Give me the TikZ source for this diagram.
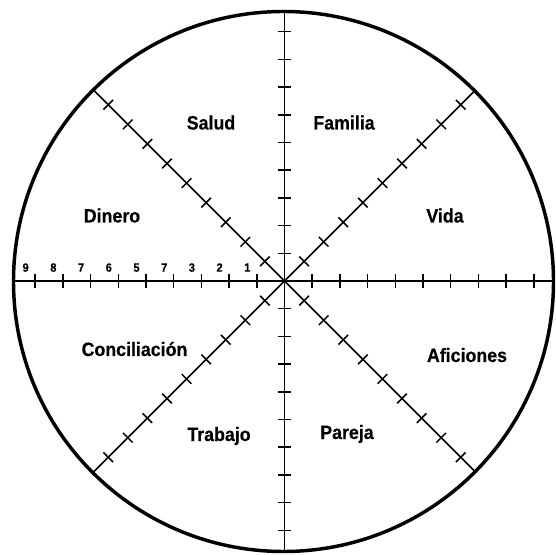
\documentclass[tikz,border=0pt]{standalone}
\usepackage{fontspec}
\setmainfont{Liberation Sans}[FakeStretch=0.92, BoldFeatures={FakeBold=0.4}]
\usepackage{tikz}

\begin{document}
\begin{tikzpicture}[x=0.75pt,y=-0.75pt,
	area/.style={anchor=base, font=\fontsize{14.5}{16}\selectfont\bfseries},
	num/.style={anchor=base, font=\fontsize{9}{10}\selectfont\bfseries}]
	\useasboundingbox (0,0) rectangle (556,555);
	\coordinate (c) at (284.5,281);
	% eight rays with nine marks each
	\foreach \a in {0,45,...,315} {
		\begin{scope}[shift={(c)}, rotate=\a]
			\draw[line width=1.25pt] (0,0) -- (270,0);
			\foreach \k in {1,...,9} \draw[line width=1.15pt] (\k*27.7,-6.8) -- (\k*27.7,6.8);
		\end{scope}
	}
	\draw[line width=2.6pt] (283.5,281.5) circle (270);
	% scale on the left ray
	\foreach \k/\l in {1/1, 2/2, 3/3, 4/7, 5/5, 6/6, 7/7, 8/8, 9/9}
		\node[num] (n\k) at (284.5-\k*27.7-9.5, 271.7) {\l};
	\node[area] (salud) at (211,129.5) {Salud};
	\node[area] (familia) at (344,129.5) {Familia};
	\node[area] (dinero) at (112,222.5) {Dinero};
	\node[area] (vida) at (445,222.5) {Vida};
	\node[area] (concil) at (134.5,356) {Conciliación};
	\node[area] (aficiones) at (467,362) {Aficiones};
	\node[area] (trabajo) at (219,441) {Trabajo};
	\node[area] (pareja) at (347,439) {Pareja};
\end{tikzpicture}
\end{document}
